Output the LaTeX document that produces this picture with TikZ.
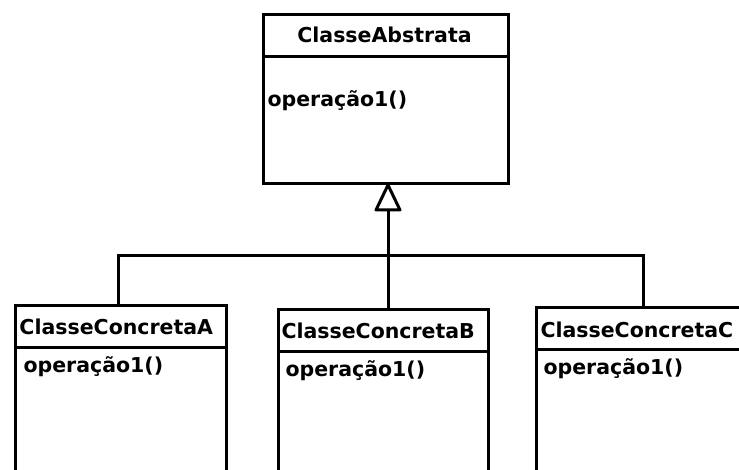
\documentclass[tikz,border=0pt]{standalone}
\usepackage{fontspec}
\newfontfamily\umlfont{DejaVu Sans}
\begin{document}
\begin{tikzpicture}[x=1pt,y=-1pt,line width=3pt,
  classbox/.style={draw,rectangle,anchor=north west,inner sep=0pt},
  uml/.style={inner sep=0pt,font=\umlfont\bfseries\fontsize{20.5}{24}\selectfont},
  header/.style={uml,anchor=west},
  oper/.style={uml,anchor=base west},
  openhead/.style={draw,fill=white,line join=round}]
  \useasboundingbox (0,0) rectangle (739,470);
  \fill[white] (0,0) rectangle (739,470);
  \clip (0,0) rectangle (739,470);

  % abstract class
  \node[classbox,minimum width=245pt,minimum height=169pt] (abs) at (262,13) {};
  \draw (abs.west |- 0,57) -- (abs.east |- 0,57);
  \node[uml] (absname) at (384.5,35) {ClasseAbstrata};
  \node[oper] (absop) at (266,107) {operação1()};

  % concrete classes (their lower parts run past the page edge)
  \node[classbox,minimum width=211pt,minimum height=220pt] (ca) at (14,304) {};
  \draw (ca.west |- 0,347) -- (ca.east |- 0,347);
  \node[header] (caname) at (18,327) {ClasseConcretaA};
  \node[oper] (caop) at (22,372) {operação1()};

  \node[classbox,minimum width=210pt,minimum height=220pt] (cb) at (277,308) {};
  \draw (cb.west |- 0,351) -- (cb.east |- 0,351);
  \node[header] (cbname) at (280,331) {ClasseConcretaB};
  \node[oper] (cbop) at (284,376) {operação1()};

  \node[classbox,minimum width=260pt,minimum height=220pt] (cc) at (535,306) {};
  \draw (cc.west |- 0,349) -- (cc.east |- 0,349);
  \node[header] (ccname) at (539,330) {ClasseConcretaC};
  \node[oper] (ccop) at (542,374) {operação1()};

  % inheritance tree
  \coordinate (joint) at (388,256);
  \coordinate (barl) at (118,256);
  \coordinate (barr) at (643,256);
  \coordinate (tip) at (388,185);
  \coordinate (headbase) at (388,210);
  \draw (joint) -- (headbase);
  \draw[openhead] (tip) -- (headbase -| 376,0) -- (headbase -| 400,0) -- cycle;
  \draw (barl |- ca.north) -- (barl) -- (barr) -- (barr |- cc.north);
  \draw (joint) -- (joint |- cb.north);
\end{tikzpicture}
\end{document}
